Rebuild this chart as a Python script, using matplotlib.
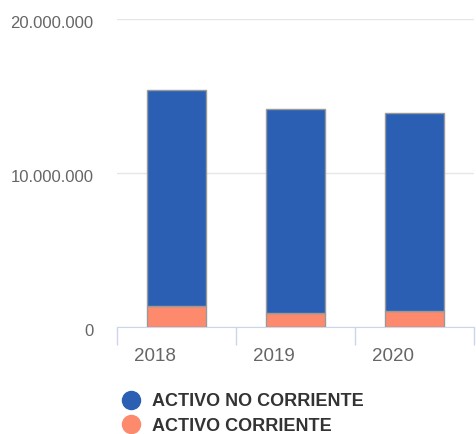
import matplotlib
matplotlib.use("Agg")
import matplotlib.pyplot as plt
import matplotlib.transforms as mtransforms
from matplotlib.lines import Line2D
from matplotlib.ticker import FuncFormatter

plt.rcParams['font.family'] = ['Liberation Sans', 'DejaVu Sans']

years = ["2018", "2019", "2020"]
no_corriente = [14050000, 13230000, 12880000]
corriente = [1340000, 930000, 1020000]
series_names = ["ACTIVO NO CORRIENTE", "ACTIVO CORRIENTE"]
colors = ["#2b5fb4", "#fe8a6e"]

fig = plt.figure(figsize=(4.76, 4.34), dpi=100)
ax = fig.add_axes([117 / 476, 1 - 327 / 434, 357 / 476, 308 / 434])

x = list(range(len(years)))
ax.bar(x, corriente, width=0.49, color=colors[1], edgecolor="#999999", linewidth=1, zorder=3)
ax.bar(x, no_corriente, width=0.49, bottom=corriente, color=colors[0],
       edgecolor="#999999", linewidth=1, zorder=3)

ax.set_xlim(-0.5, 2.5)
ax.set_ylim(0, 20000000)
ax.set_yticks([0, 10000000, 20000000])
ax.yaxis.set_major_formatter(FuncFormatter(lambda v, p: f"{int(v):,}".replace(",", ".")))
ax.grid(axis="y", color="#e6e6e6", linewidth=1, zorder=0)
ax.tick_params(axis="y", length=0, pad=17, labelsize=12, labelcolor="#666666")
# labels sit a little below their gridlines
shift = mtransforms.ScaledTranslation(0, -2.5 / 100, fig.dpi_scale_trans)
for lbl in ax.get_yticklabels():
    lbl.set_transform(lbl.get_transform() + shift)

for s in ["top", "right", "left"]:
    ax.spines[s].set_visible(False)
ax.spines["bottom"].set_color("#ccd6eb")

ax.set_xticks([-0.5, 0.5, 1.5, 2.5])
ax.set_xticklabels([])
ax.tick_params(axis="x", length=13, color="#ccd6eb", width=1)
for i, yr in enumerate(years):
    ax.text(i - 0.5 + 17 / 119, -0.097, yr, transform=ax.get_xaxis_transform(),
            ha="left", va="center", fontsize=13.5, color="#666666")

handles = [Line2D([], [], marker="o", linestyle="", markersize=13, color=c) for c in colors]
fig.legend(handles, series_names, loc="upper left", bbox_to_anchor=(122 / 476, 1 - 393 / 434),
           frameon=False, handletextpad=0.66, labelspacing=0.42, handlelength=1.0,
           borderaxespad=0, borderpad=0,
           prop={"weight": "bold", "size": 13}, labelcolor="#333333")

fig.savefig("out.png", dpi=100)
